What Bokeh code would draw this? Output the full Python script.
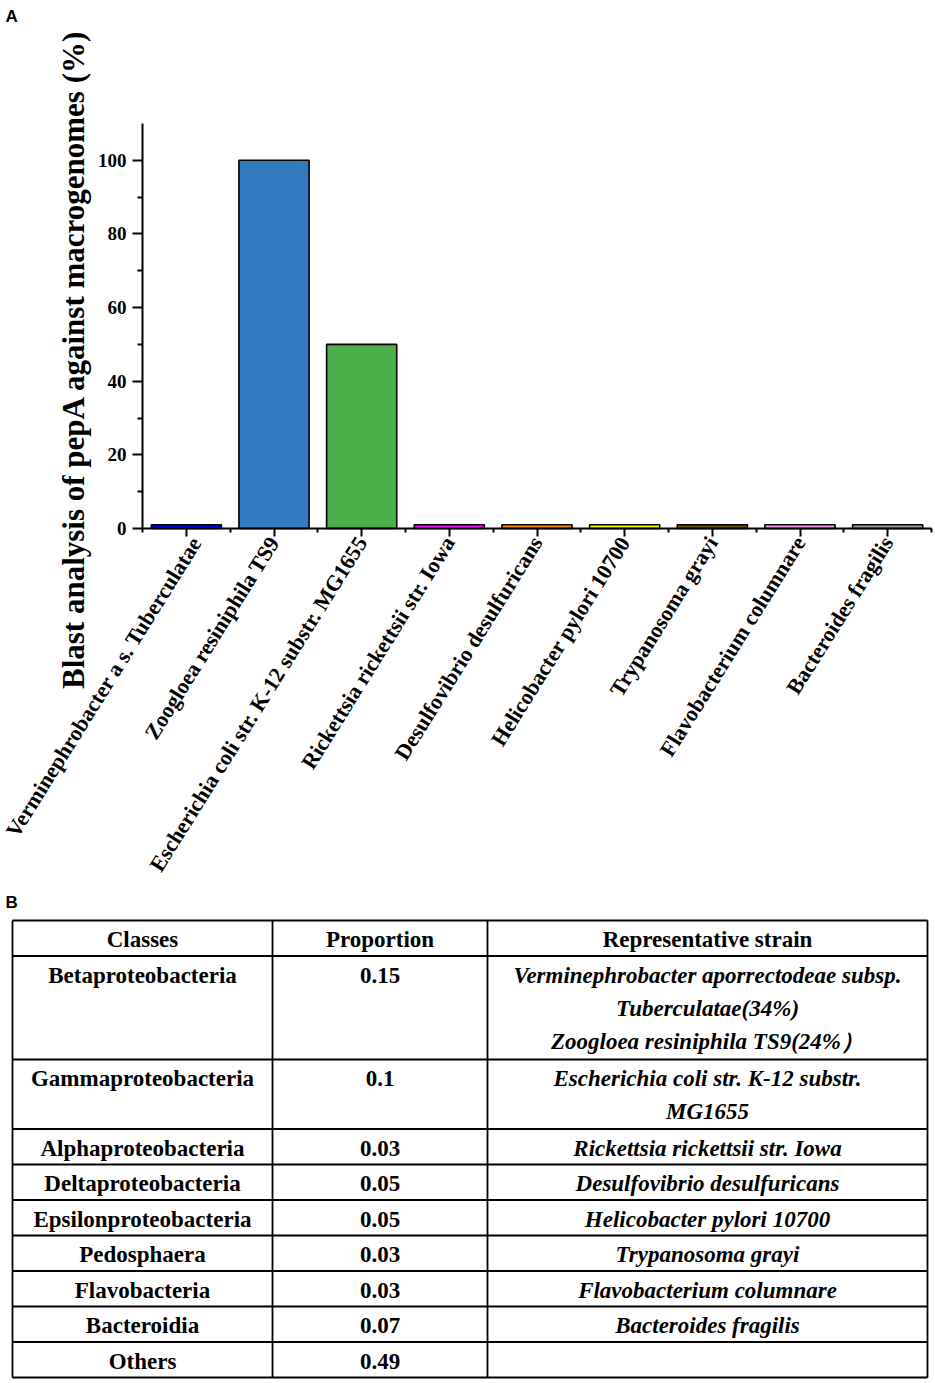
import numpy as np
from bokeh.plotting import figure
from bokeh.models import Range1d, FixedTicker, ColumnDataSource, Label
from bokeh.embed import file_html
from bokeh.resources import INLINE
from bokeh.core.properties import value

# ---------------- data: panel A ----------------
strains_short = [
    "Verminephrobacter a s. Tuberculatae",
    "Zoogloea resiniphila TS9",
    "Escherichia coli str. K-12 substr. MG1655",
    "Rickettsia rickettsii str. Iowa",
    "Desulfovibrio desulfuricans",
    "Helicobacter pylori 10700",
    "Trypanosoma grayi",
    "Flavobacterium columnare",
    "Bacteroides fragilis",
]
blast_pct = [1, 100, 50, 1, 1, 1, 1, 1, 1]
bar_colors = ["#0000E6", "#337ABF", "#4DAF4A", "#FF00FF", "#FF8C00",
              "#FFFF00", "#6E5000", "#F59BF5", "#A0A0A0"]
y_major = [0, 20, 40, 60, 80, 100]
y_minor = [10, 30, 50, 70, 90]
y_max = 110
y_label = "Blast analysis of pepA against macrogenomes (%)"

# ---------------- data: panel B (table) ----------------
headers = ["Classes", "Proportion", "Representative strain"]
classes = ["Betaproteobacteria", "Gammaproteobacteria", "Alphaproteobacteria",
           "Deltaproteobacteria", "Epsilonproteobacteria", "Pedosphaera",
           "Flavobacteria", "Bacteroidia", "Others"]
proportions = [0.15, 0.1, 0.03, 0.05, 0.05, 0.03, 0.03, 0.07, 0.49]
rep_strains = [
    ["Verminephrobacter aporrectodeae subsp.", "Tuberculatae(34%)", "Zoogloea resiniphila TS9(24%\uff09"],
    ["Escherichia coli str. K-12 substr.", "MG1655"],
    ["Rickettsia rickettsii str. Iowa"],
    ["Desulfovibrio desulfuricans"],
    ["Helicobacter pylori 10700"],
    ["Trypanosoma grayi"],
    ["Flavobacterium columnare"],
    ["Bacteroides fragilis"],
    [],
]

SERIF = "Liberation Serif"
SANS = "Liberation Sans"
W = 935
H1 = 882           # bar chart panel
H2 = 500           # table panel

# pixel layout of the plotting area inside panel A
AX_LEFT, AX_RIGHT = 142, 931
AX_TOP, AX_BOTTOM = 123, 528

n = len(strains_short)
xs = list(range(1, n + 1))
ux = (AX_RIGHT - AX_LEFT) / n
uy = (AX_BOTTOM - AX_TOP) / y_max
x_range = Range1d(0.5 - AX_LEFT / ux, n + 0.5 + (W - AX_RIGHT) / ux)
y_range = Range1d(-(H1 - AX_BOTTOM) / uy, y_max + AX_TOP / uy)

src = ColumnDataSource(dict(x=xs, top=blast_pct, color=bar_colors))

p = figure(width=W, height=H1, x_range=x_range, y_range=y_range,
           output_backend="svg", toolbar_location=None, min_border=0)
p.outline_line_color = None
p.xgrid.visible = False
p.ygrid.visible = False

p.vbar(x="x", top="top", width=0.8, source=src, fill_color="color",
       line_color="black", line_width=1.6)

for ax in (p.xaxis[0], p.yaxis[0]):
    ax.axis_line_width = 2
    ax.axis_line_color = "black"
    ax.major_tick_line_width = 2
    ax.minor_tick_line_width = 2
    ax.major_tick_line_color = "black"
    ax.minor_tick_line_color = "black"
    ax.major_tick_in = 0
    ax.minor_tick_in = 0
    ax.major_label_text_font = SERIF
    ax.major_label_text_font_style = "bold"
    ax.major_label_text_color = "black"

ya = p.yaxis[0]
ya.fixed_location = 0.5
ya.bounds = (0, y_max)
ya.ticker = FixedTicker(ticks=y_major, minor_ticks=y_minor)
ya.major_tick_out = 10
ya.minor_tick_out = 5
ya.major_label_text_font_size = "19px"
ya.major_label_standoff = 6

xa = p.xaxis[0]
xa.fixed_location = 0
xa.bounds = (0.5, n + 0.5)
xa.ticker = FixedTicker(ticks=xs, minor_ticks=[x - 0.5 for x in xs] + [n + 0.5])
xa.major_label_overrides = {x: s for x, s in zip(xs, strains_short)}
xa.major_tick_out = 8
xa.minor_tick_out = 4
xa.major_label_orientation = np.deg2rad(58)
xa.major_label_text_font_size = "22px"
xa.major_label_standoff = 2

p.add_layout(Label(x=73, y=H1 - 359, x_units="screen", y_units="screen",
                   text=y_label, angle=np.pi / 2, text_align="center",
                   text_baseline="alphabetic", text_font=SERIF,
                   text_font_style="bold", text_font_size="31px", text_color="black"))
p.add_layout(Label(x=5, y=H1 - 6, x_units="screen", y_units="screen",
                   text="A", text_align="left", text_baseline="top", text_font=SANS,
                   text_font_style="bold", text_font_size="17px", text_color="black"))

# ---------------- panel B: table ----------------
t = figure(width=W, height=H2, x_range=Range1d(0, W), y_range=Range1d(H2, 0),
           output_backend="svg", toolbar_location=None, min_border=0,
           x_axis_location=None, y_axis_location=None)
t.outline_line_color = None
t.grid.visible = False

t.text(x=[5], y=[10], text=["B"], text_align="left", text_baseline="top",
       text_font=value(SANS), text_font_style="bold", text_font_size="17px",
       text_color="black")

col_edges = [12, 272, 487, 927]
col_centers = [(col_edges[i] + col_edges[i + 1]) / 2 for i in range(3)]
table_top = 38
line_h = 33
row_lines = [1] + [max(1, len(s)) for s in rep_strains]
row_heights = [1.5 + 34 * k for k in row_lines]
row_edges = list(table_top + np.concatenate([[0], np.cumsum(row_heights)]))

t.segment(x0=[col_edges[0]] * len(row_edges), y0=row_edges,
          x1=[col_edges[-1]] * len(row_edges), y1=row_edges,
          line_color="black", line_width=1.8)
t.segment(x0=col_edges, y0=[row_edges[0]] * 4, x1=col_edges, y1=[row_edges[-1]] * 4,
          line_color="black", line_width=1.8)

tx, ty, tt, tstyle = [], [], [], []
for j, h in enumerate(headers):
    tx.append(col_centers[j]); ty.append(row_edges[0] + 19); tt.append(h); tstyle.append("bold")
for i in range(len(classes)):
    y0 = row_edges[i + 1]
    tx.append(col_centers[0]); ty.append(y0 + 19); tt.append(classes[i]); tstyle.append("bold")
    tx.append(col_centers[1]); ty.append(y0 + 19); tt.append(f"{proportions[i]:g}"); tstyle.append("bold")
    for k, s in enumerate(rep_strains[i]):
        tx.append(col_centers[2]); ty.append(y0 + 19 + line_h * k); tt.append(s)
        tstyle.append("bold italic")

tsrc = ColumnDataSource(dict(x=tx, y=ty, text=tt, style=tstyle))
t.text(x="x", y="y", text="text", source=tsrc, text_align="center", text_baseline="middle",
       text_font=value(SERIF), text_font_style="style", text_font_size="23px",
       text_color="black")

open("out.html", "w").write(file_html([p, t], INLINE))
